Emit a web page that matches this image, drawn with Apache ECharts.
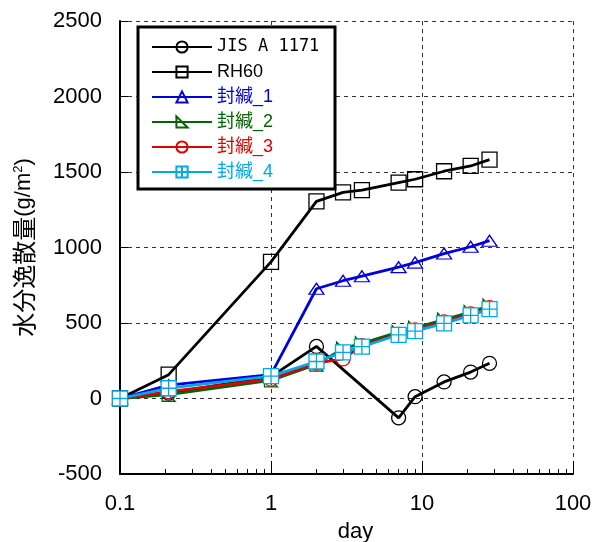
<!DOCTYPE html>
<html>
<head>
<meta charset="utf-8">
<script src="https://cdn.jsdelivr.net/npm/echarts@6/dist/echarts.min.js"></script>
<style>
html,body{margin:0;padding:0;background:#fff;}
#chart{width:603px;height:542px;}
</style>
</head>
<body>
<div id="chart"></div>
<script>
// ---- data ----
const days = [0.1, 0.21, 1, 2, 3, 4, 7, 9, 14, 21, 28];
const jisDays = [0.1, 0.21, 1, 2, 7, 9, 14, 21, 28];
const jis  = [0, 35, 145, 345, -128, 12, 110, 175, 233];
const rh60 = [0, 158, 905, 1305, 1365, 1380, 1430, 1452, 1505, 1540, 1582];
const seal1 = [0, 88, 158, 727, 780, 810, 870, 900, 960, 1005, 1045];
const seal2 = [0, 25, 120, 225, 330, 365, 440, 468, 522, 572, 615];
const seal3 = [0, 45, 128, 235, 262, 350, 425, 455, 508, 560, 602];
const seal4 = [0, 68, 148, 245, 305, 343, 422, 446, 497, 550, 592];
const seriesNames = ['JIS A 1171', 'RH60', '封緘_1', '封緘_2', '封緘_3', '封緘_4'];
const xMajorTicks = [0.1, 1, 10, 100];
const xMinorTicks = [0.2,0.3,0.4,0.5,0.6,0.7,0.8,0.9,2,3,4,5,6,7,8,9,20,30,40,50,60,70,80,90];

const pairs = (xs, ys) => xs.map((x, i) => [x, ys[i]]);

const colors = ['#000000', '#000000', '#0000dd', '#006400', '#e00000', '#00a8e8'];
const squareGrid = 'path://M0,0L20,0L20,20L0,20Z M10,0L10,20 M0,10L20,10';
const rightTri = 'path://M0,0L0,20L20,20Z';

function mk(name, data, color, symbol, size, fill) {
  return {
    name: name, type: 'line', data: data,
    symbol: symbol, symbolSize: size,
    lineStyle: {color: color, width: 2.8},
    itemStyle: {color: fill, borderColor: color, borderWidth: 1.3},
    emphasis: {disabled: true},
    animation: false
  };
}

const chart = echarts.init(document.getElementById('chart'));
const axisFont = {fontFamily: 'Liberation Sans, Arial', fontSize: 22, color: '#000'};

chart.setOption({
  animation: false,
  grid: {left: 120, right: 30, top: 21, bottom: 68, containLabel: false, outerBoundsMode: 'none'},
  graphic: [{
    type: 'rect', z: 3,
    shape: {x: 138, y: 27, width: 197, height: 162},
    style: {fill: '#fff', stroke: '#000', lineWidth: 3}
  }],
  legend: {
    z: 4, orient: 'vertical', left: 151, top: 38, padding: 0,
    itemWidth: 60, itemHeight: 14, itemGap: 7,
    textStyle: {fontFamily: 'Liberation Sans, Noto Sans CJK JP', fontSize: 18, lineHeight: 18,
      rich: {m: {fontFamily: 'DejaVu Sans Mono', fontSize: 17, color: '#000'}}},
    formatter: n => n === 'JIS A 1171' ? '{m|' + n + '}' : n,
    data: seriesNames.map((n, i) => ({name: n, textStyle: {color: colors[i]}}))
  },
  xAxis: [{
    type: 'log', logBase: 10, min: 0.1, max: 100,
    name: 'day', nameLocation: 'middle', nameGap: 47,
    nameTextStyle: {fontFamily: 'Liberation Sans, Arial', fontSize: 22, color: '#000', padding: [0, 0, 0, 18]},
    axisLine: {onZero: false, lineStyle: {color: '#000', width: 2}},
    axisTick: {inside: true, length: 13, lineStyle: {color: '#000', width: 1}, customValues: xMajorTicks},
    axisLabel: Object.assign({margin: 19, formatter: v => String(v), customValues: xMajorTicks}, axisFont),
    splitLine: {show: true, lineStyle: {color: '#333', type: [4, 4], width: 1}}
  }, {
    type: 'log', logBase: 10, min: 0.1, max: 100, position: 'bottom',
    axisLine: {show: false, onZero: false},
    axisTick: {inside: true, length: 5, lineStyle: {color: '#000', width: 1}, customValues: xMinorTicks},
    axisLabel: {show: false},
    splitLine: {show: false}
  }],
  yAxis: {
    type: 'value', min: -500, max: 2500, interval: 500,
    name: '{a|水分逸散量}{b|(g/m}{s|2}{b|)}', nameLocation: 'middle', nameGap: 84,
    nameTextStyle: {color: '#000', rich: {
      a: {fontFamily: 'Noto Sans CJK JP', fontSize: 24, color: '#000'},
      b: {fontFamily: 'Liberation Sans, Arial', fontSize: 22, color: '#000'},
      s: {fontFamily: 'Liberation Sans, Arial', fontSize: 13, color: '#000', verticalAlign: 'top', padding: [0, 0, 10, 0]}
    }},
    axisLine: {show: true, onZero: false, lineStyle: {color: '#000', width: 2}},
    axisTick: {inside: true, length: 8, lineStyle: {color: '#000', width: 1}},
    axisLabel: Object.assign({margin: 18, formatter: v => String(v)}, axisFont),
    splitLine: {show: true, lineStyle: {color: '#333', type: [4, 4], width: 1}}
  },
  series: [
    mk(seriesNames[0], pairs(jisDays, jis), colors[0], 'circle', 14, 'none'),
    mk(seriesNames[1], pairs(days, rh60), colors[1], 'rect', 15, 'none'),
    mk(seriesNames[2], pairs(days, seal1), colors[2], 'triangle', [15, 11], 'none'),
    mk(seriesNames[3], pairs(days, seal2), colors[3], rightTri, 13, 'none'),
    mk(seriesNames[4], pairs(days, seal3), colors[4], 'circle', 14, 'none'),
    mk(seriesNames[5], pairs(days, seal4), colors[5], squareGrid, 15, '#ffffff')
  ]
});
</script>
</body>
</html>
